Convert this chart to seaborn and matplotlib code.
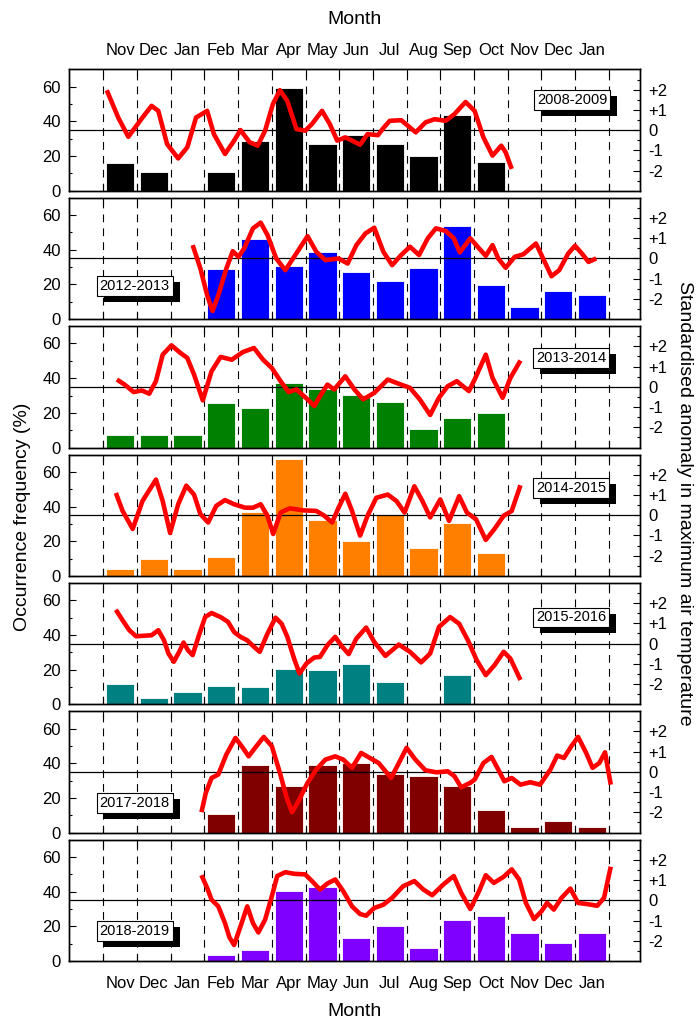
import numpy as np
import pandas as pd
import matplotlib
matplotlib.use("Agg")
import matplotlib.pyplot as plt
from matplotlib.patches import Rectangle
from matplotlib.transforms import IdentityTransform
import seaborn as sns

# =========================
# DATA
# =========================

months = ["Nov", "Dec", "Jan", "Feb", "Mar", "Apr", "May", "Jun",
          "Jul", "Aug", "Sep", "Oct", "Nov", "Dec", "Jan"]

seasons = ["2008-2009", "2012-2013", "2013-2014", "2014-2015",
           "2015-2016", "2017-2018", "2018-2019"]

bar_colors = ["#000000", "#0000FF", "#008000", "#FF8000",
              "#008080", "#800000", "#8000FF"]

# occurrence frequency (%) per month
freq_2008 = [16, 11, 0, 11, 29, 59, 27, 32, 27, 20, 44, 16.5, 0, 0, 0]
freq_2012 = [0, 0, 0, 29, 46, 30.5, 39, 27, 22, 29.5, 54, 19.7, 7, 16.2, 14]
freq_2013 = [7, 7, 7, 25.5, 23, 37, 33.5, 30.3, 26, 10.5, 17, 19.7, 0, 0, 0]
freq_2014 = [3.7, 10, 3.7, 10.6, 37, 67.3, 32.5, 20, 35, 16, 30.4, 13, 0, 0, 0]
freq_2015 = [11.5, 3.7, 6.9, 10.8, 10, 20.2, 19.6, 23, 12.7, 0, 17.1, 0, 0, 0, 0]
freq_2017 = [0, 0, 0, 11, 38.9, 26.9, 38.9, 40.4, 33.7, 32.7, 26.9, 13.2, 3.5, 6.6, 3.5]
freq_2018 = [0, 0, 0, 3.5, 6.4, 40.3, 42.5, 13.3, 20.3, 7.2, 23.6, 26.1, 16, 10.1, 16.2]

# standardised anomaly, time in months from the start of the first Nov
t_2008 = [0.1, 0.44, 0.74, 1.16, 1.43, 1.63, 1.89, 2.22, 2.49, 2.75, 3.08, 3.28,
          3.61, 3.88, 4.07, 4.34, 4.58, 4.8, 5.03, 5.24, 5.46, 5.73, 5.99, 6.19,
          6.49, 6.72, 6.94, 7.18, 7.38, 7.62, 7.84, 8.15, 8.31, 8.5, 8.84, 9.27,
          9.56, 9.83, 10.16, 10.42, 10.75, 11.02, 11.28, 11.55, 11.81, 11.94, 12.12]
anom_2008 = [1.97, 0.62, -0.33, 0.62, 1.2, 0.95, -0.69, -1.4, -0.85, 0.62, 0.95, -0.2,
             -1.18, -0.52, 0.0, -0.6, -0.77, -0.03, 1.28, 1.97, 1.44, 0.05, -0.03, 0.3,
             0.95, 0.3, -0.52, -0.36, -0.52, -0.72, -0.2, -0.25, 0.1, 0.46, 0.49, -0.11,
             0.38, 0.54, 0.46, 0.79, 1.39, 0.95, -0.36, -1.26, -0.77, -1.1, -1.92]

t_2012 = [2.65, 2.88, 3.08, 3.24, 3.41, 3.65, 3.84, 4.01, 4.18, 4.44, 4.67, 4.87,
          5.13, 5.4, 5.66, 6.06, 6.32, 6.59, 6.98, 7.25, 7.51, 7.78, 8.04, 8.31,
          8.57, 8.84, 9.1, 9.37, 9.63, 9.87, 10.16, 10.4, 10.58, 10.89, 11.15, 11.35,
          11.55, 11.72, 11.94, 12.21, 12.47, 12.67, 12.84, 13.1, 13.3, 13.53, 13.8,
          14.0, 14.2, 14.4, 14.63]
anom_2012 = [0.66, -0.5, -1.82, -2.6, -1.82, -0.5, 0.36, 0.08, 0.5, 1.49, 1.77, 1.16,
             0.0, -0.58, 0.08, 1.1, 0.33, -0.08, 0.0, -0.25, 0.66, 1.24, 1.52, 0.33,
             -0.33, 0.17, 0.58, 0.17, 1.0, 1.49, 1.36, 1.0, 0.3, 1.0, 0.5, 0.13,
             0.66, 0.0, -0.46, 0.08, 0.21, 0.5, 0.74, -0.17, -0.88, -0.58, 0.25,
             0.63, 0.25, -0.17, 0.0]

t_2013 = [0.4, 0.63, 0.9, 1.14, 1.36, 1.56, 1.76, 2.02, 2.29, 2.49, 2.69, 2.95,
          3.21, 3.48, 3.81, 4.14, 4.47, 4.74, 5.0, 5.26, 5.5, 5.73, 6.06, 6.26,
          6.43, 6.65, 6.85, 7.18, 7.45, 7.71, 8.04, 8.44, 8.77, 9.1, 9.39, 9.7,
          9.96, 10.22, 10.49, 10.85, 11.02, 11.35, 11.55, 11.85, 12.08, 12.38]
anom_2013 = [0.36, 0.11, -0.26, -0.18, -0.34, 0.28, 1.59, 2.05, 1.67, 1.43, 0.61, -0.67,
             0.77, 1.48, 1.34, 1.72, 1.92, 1.34, 0.93, 0.28, -0.26, -0.13, -0.62, -0.95,
             -0.46, 0.11, -0.13, 0.52, -0.13, -0.62, -0.3, 0.36, 0.15, -0.05, -0.62, -1.39,
             -0.54, 0.03, 0.28, -0.21, 0.36, 1.59, 0.44, -0.54, 0.44, 1.3]

t_2014 = [0.37, 0.57, 0.87, 1.16, 1.56, 1.76, 1.98, 2.22, 2.46, 2.69, 2.88, 3.11,
          3.35, 3.61, 3.88, 4.21, 4.44, 4.67, 4.87, 5.04, 5.26, 5.53, 5.93, 6.32,
          6.56, 6.79, 6.98, 7.18, 7.38, 7.62, 7.84, 8.1, 8.44, 8.7, 8.94, 9.23,
          9.47, 9.7, 10.0, 10.26, 10.56, 10.79, 11.06, 11.35, 11.61, 11.88, 12.12, 12.38]
anom_2014 = [1.1, 0.21, -0.68, 0.7, 1.76, 0.7, -0.88, 0.54, 1.46, 1.02, 0.05, -0.36,
             0.46, 0.75, 0.54, 0.37, 0.37, 0.54, -0.03, -0.93, 0.13, 0.34, 0.24, 0.21,
             -0.03, -0.36, 0.37, 1.06, 0.21, -1.01, -0.03, 0.86, 1.02, 0.7, 0.13, 1.43,
             0.7, -0.11, 0.78, -0.28, 0.94, 0.13, -0.2, -1.22, -0.68, -0.03, 0.21, 1.48]

t_2015 = [0.37, 0.57, 0.77, 0.97, 1.23, 1.43, 1.63, 1.8, 1.93, 2.09, 2.25, 2.38,
          2.51, 2.65, 2.82, 3.02, 3.21, 3.48, 3.7, 3.88, 4.07, 4.27, 4.47, 4.64,
          4.87, 5.11, 5.29, 5.46, 5.66, 5.82, 6.03, 6.26, 6.43, 6.65, 6.88, 7.09,
          7.28, 7.51, 7.8, 8.04, 8.37, 8.77, 9.1, 9.43, 9.7, 9.96, 10.29, 10.56,
          10.82, 11.08, 11.35, 11.61, 11.88, 12.08, 12.38]
anom_2015 = [1.67, 1.15, 0.66, 0.36, 0.39, 0.41, 0.66, 0.16, -0.49, -0.9, -0.41, 0.05,
             -0.33, -0.57, 0.33, 1.31, 1.51, 1.31, 1.07, 0.57, 0.33, 0.16, -0.16, -0.41,
             0.49, 1.28, 0.98, 0.33, -0.74, -1.48, -0.98, -0.69, -0.66, -0.08, 0.33, -0.16,
             -0.52, 0.25, 0.79, 0.08, -0.61, -0.05, -0.41, -0.93, -0.49, 0.82, 1.31, 0.98,
             0.16, -0.82, -1.56, -1.07, -0.41, -0.74, -1.8]

t_2017 = [2.91, 3.04, 3.21, 3.41, 3.65, 3.92, 4.14, 4.31, 4.54, 4.76, 5.0, 5.24,
          5.44, 5.6, 5.79, 6.06, 6.32, 6.59, 6.88, 7.12, 7.38, 7.65, 7.91, 8.17,
          8.54, 8.77, 9.0, 9.26, 9.56, 9.89, 10.22, 10.42, 10.62, 10.89, 11.02, 11.28,
          11.52, 11.72, 11.9, 12.12, 12.38, 12.67, 12.96, 13.27, 13.47, 13.67, 13.89,
          14.09, 14.33, 14.52, 14.72, 14.89, 15.06]
anom_2017 = [-1.99, -1.04, -0.3, -0.13, 0.86, 1.68, 1.19, 0.77, 1.27, 1.73, 1.27, -0.05,
             -1.28, -1.99, -1.45, -0.54, 0.12, 0.61, 0.77, 0.61, 0.2, 0.94, 0.69, 0.44,
             -0.3, 0.44, 1.19, 0.61, 0.08, -0.02, 0.03, -0.21, -0.76, -0.54, -0.38, 0.44,
             0.74, 0.12, -0.46, -0.3, -0.63, -0.51, -0.63, 0.12, 0.81, 0.69, 1.27,
             1.73, 0.94, 0.2, 0.44, 0.97, -0.63]

t_2018 = [2.91, 3.08, 3.21, 3.41, 3.61, 3.74, 3.88, 4.07, 4.27, 4.44, 4.6, 4.8,
          5.0, 5.16, 5.4, 5.66, 5.99, 6.19, 6.43, 6.65, 6.88, 7.12, 7.38, 7.62,
          7.8, 8.04, 8.31, 8.57, 8.9, 9.23, 9.5, 9.76, 10.09, 10.4, 10.62, 10.89,
          11.15, 11.35, 11.59, 11.88, 12.12, 12.34, 12.54, 12.78, 13.0, 13.17, 13.37,
          13.6, 13.86, 14.09, 14.33, 14.66, 14.86, 15.06]
anom_2018 = [1.24, 0.61, 0.03, -0.3, -1.13, -1.83, -2.21, -1.29, -0.3, -1.13, -1.59, -0.96,
             0.2, 1.2, 1.39, 1.31, 1.28, 0.95, 0.53, 0.83, 1.03, 0.45, -0.3, -0.68,
             -0.76, -0.38, -0.22, 0.12, 0.7, 0.95, 0.53, 0.25, 0.78, 1.2, 0.37, -0.43,
             0.45, 1.24, 0.86, 1.16, 1.53, 1.03, -0.13, -0.93, -0.55, -0.13, -0.46,
             0.12, 0.58, -0.13, -0.18, -0.27, 0.12, 1.66]

freqs = [freq_2008, freq_2012, freq_2013, freq_2014, freq_2015, freq_2017, freq_2018]
times = [t_2008, t_2012, t_2013, t_2014, t_2015, t_2017, t_2018]
anoms = [anom_2008, anom_2012, anom_2013, anom_2014, anom_2015, anom_2017, anom_2018]

# where the season label box sits (axes fraction)
box_pos = [(0.881, 0.747), (0.115, 0.273), (0.879, 0.737), (0.879, 0.724),
           (0.879, 0.715), (0.115, 0.245), (0.115, 0.247)]


# =========================
# STYLE
# =========================

sns.set_style("ticks")
plt.rcParams['font.family'] = ['Liberation Sans', 'DejaVu Sans']
plt.rcParams['axes.linewidth'] = 1.0
plt.rcParams['axes.edgecolor'] = 'black'
plt.rcParams['text.color'] = 'black'
plt.rcParams['axes.labelcolor'] = 'black'
plt.rcParams['xtick.color'] = 'black'
plt.rcParams['ytick.color'] = 'black'

fig = plt.figure(figsize=(6.98, 10.21), dpi=100)
axes = fig.subplots(7, 1)
fig.subplots_adjust(left=0.0989, right=0.917, top=0.932, bottom=0.0588, hspace=0.0577)

x_pos = np.arange(len(months))
bounds = np.arange(-0.5, 15.0, 1.0)

box_texts = []


# =========================
# PANELS
# =========================

for i, ax in enumerate(axes):

    df = pd.DataFrame({'x': x_pos, 'freq': freqs[i]})
    df = df[df['freq'] > 0]

    for b in bounds:
        ax.axvline(b, color='black', lw=0.8, linestyle=(0, (7, 5.5)), zorder=0.5)

    sns.barplot(data=df, x='x', y='freq', native_scale=True, width=0.84,
                color=bar_colors[i], saturation=1, edgecolor='white',
                linewidth=0.6, errorbar=None, ax=ax, zorder=2)

    ax.set_xlim(-1.52, 15.43)
    ax.set_ylim(0, 70)
    ax.set_xlabel("")
    ax.set_ylabel("")

    ax.set_yticks([0, 20, 40, 60])
    ax.set_yticks([10, 30, 50], minor=True)
    ax.tick_params(axis='y', which='major', direction='in', length=5, width=0.8,
                   labelsize=12, pad=6, right=False)
    ax.tick_params(axis='y', which='minor', direction='in', length=2.5, width=0.8,
                   right=False)

    ax.set_xticks(bounds)
    ax.set_xticklabels([])
    ax.set_xticks(x_pos, minor=True)
    ax.set_xticklabels(months, minor=True)
    ax.tick_params(axis='x', which='major', direction='in', length=5, width=0.8,
                   top=True, bottom=True, labelbottom=False, labeltop=False)
    ax.tick_params(axis='x', which='minor', length=0, labelsize=12, pad=8,
                   top=False, bottom=False, labelbottom=False, labeltop=False)
    if i == 0:
        ax.tick_params(axis='x', which='minor', labeltop=True)
    if i == len(axes) - 1:
        ax.tick_params(axis='x', which='minor', labelbottom=True, pad=11)

    # anomaly on the right axis
    ax2 = ax.twinx()
    ax2.axhline(0, color='black', lw=0.9, zorder=1)
    line_x = np.array(times[i]) - 0.5
    sns.lineplot(x=line_x, y=anoms[i], ax=ax2, color='#FF0000', linewidth=3.3,
                 sort=False, estimator=None, zorder=3,
                 solid_joinstyle='round', solid_capstyle='butt')
    ax2.set_ylim(-3, 3)
    ax2.set_yticks([-2, -1, 0, 1, 2])
    ax2.set_yticklabels(["-2", "-1", "0", "+1", "+2"])
    ax2.set_yticks(np.arange(-2.5, 3.0, 1.0), minor=True)
    ax2.tick_params(axis='y', which='major', direction='in', length=5, width=0.8,
                    labelsize=12, pad=6, left=False)
    ax2.tick_params(axis='y', which='minor', direction='in', length=2.5, width=0.8,
                    left=False)
    ax2.set_ylabel("")

    # season label in a white box
    txt = ax2.text(box_pos[i][0], box_pos[i][1], seasons[i], transform=ax2.transAxes,
                   ha='center', va='center', fontsize=10.5, zorder=9,
                   bbox=dict(boxstyle='square,pad=0.2', fc='white', ec='black', lw=0.8))
    box_texts.append((ax2, txt))


# =========================
# LABELS
# =========================

fig.text(0.508, 0.981, "Month", ha='center', va='center', fontsize=14)
fig.text(0.508, 0.009, "Month", ha='center', va='center', fontsize=14)
fig.text(0.032, 0.494, "Occurrence frequency (%)", rotation=90,
         ha='center', va='center', fontsize=14)
fig.text(0.981, 0.507, "Standardised anomaly in maximum air temperature",
         rotation=270, ha='center', va='center', fontsize=14)


# =========================
# BOX SHADOWS
# =========================

fig.canvas.draw()
renderer = fig.canvas.get_renderer()
for ax2, txt in box_texts:
    bb = txt.get_bbox_patch().get_window_extent(renderer)
    shadow = Rectangle((bb.x0 + 7, bb.y0 - 6), bb.width, bb.height,
                       transform=IdentityTransform(), facecolor='black',
                       edgecolor='black', lw=0, zorder=8, clip_on=False)
    ax2.add_artist(shadow)

plt.savefig("out.png", dpi=100)
